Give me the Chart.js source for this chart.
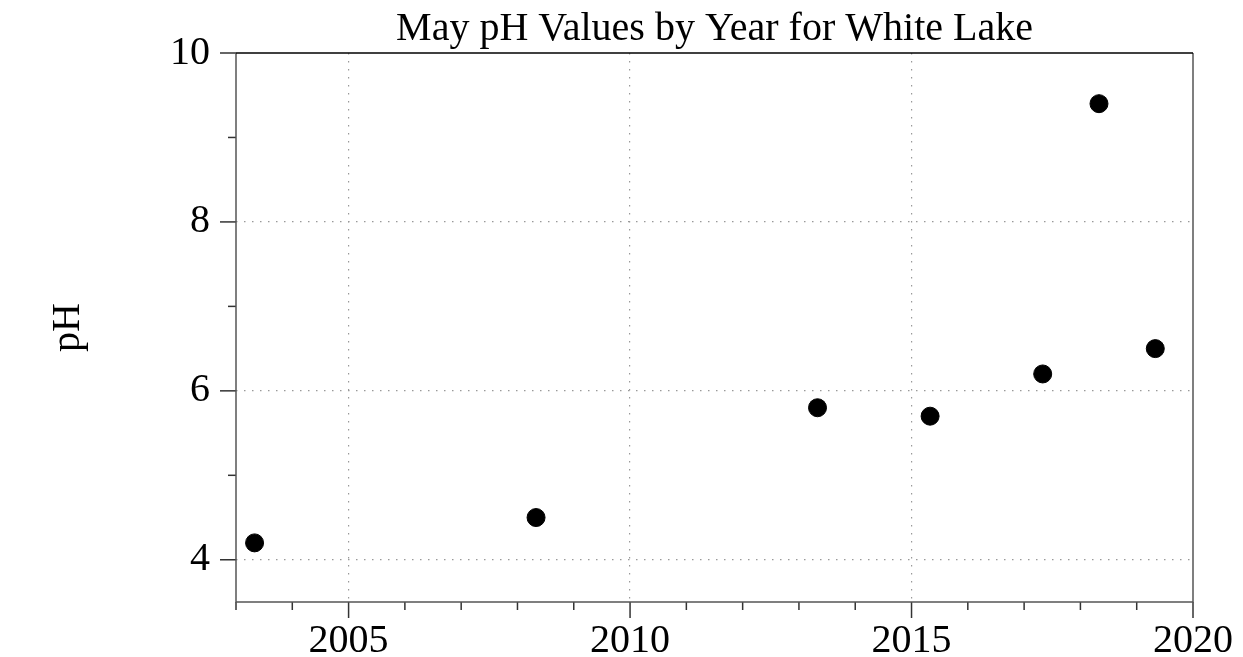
<!DOCTYPE html>
<html>
<head>
<meta charset="utf-8">
<script src="https://cdn.jsdelivr.net/npm/chart.js@4"></script>
<style>
  html, body { margin: 0; padding: 0; background: #fff; }
  #wrap { width: 1243px; height: 657px; }
</style>
</head>
<body>
<div id="wrap"><canvas id="myChart" width="1243" height="657"></canvas></div>
<script>
var years = [2003.33, 2008.33, 2013.33, 2015.33, 2017.33, 2018.33, 2019.33];
var phValues = [4.2, 4.5, 5.8, 5.7, 6.2, 9.4, 6.5];
var xTicks = [2003, 2004, 2005, 2006, 2007, 2008, 2009, 2010, 2011, 2012, 2013, 2014, 2015, 2016, 2017, 2018, 2019, 2020];
var xLabels = [2005, 2010, 2015, 2020];
var yTicks = [4, 5, 6, 7, 8, 9, 10];
var yLabels = [4, 6, 8, 10];

var serif = "'Liberation Serif', 'DejaVu Serif', serif";

// ticks of different lengths + frame
var frame = {
  id: "frame",
  afterDraw: function (chart) {
    var c = chart.ctx, a = chart.chartArea;
    var xs = chart.scales.x, ys = chart.scales.y;
    c.save();
    c.lineWidth = 1.5;
    c.strokeStyle = "#333";
    xTicks.forEach(function (v) {
      var px = xs.getPixelForValue(v);
      var len = xLabels.indexOf(v) >= 0 ? 16 : 8;
      c.beginPath(); c.moveTo(px, a.bottom); c.lineTo(px, a.bottom + len); c.stroke();
    });
    yTicks.forEach(function (v) {
      var py = ys.getPixelForValue(v);
      var len = yLabels.indexOf(v) >= 0 ? 16 : 8;
      c.beginPath(); c.moveTo(a.left, py); c.lineTo(a.left - len, py); c.stroke();
    });
    c.strokeStyle = "#555";
    c.beginPath(); c.moveTo(a.left, a.top); c.lineTo(a.left, a.bottom); c.lineTo(a.right, a.bottom); c.lineTo(a.right, a.top); c.stroke();
    c.strokeStyle = "#000";
    c.beginPath(); c.moveTo(a.left, a.top); c.lineTo(a.right, a.top); c.stroke();
    c.restore();
  }
};

new Chart("myChart", {
  type: "scatter",
  data: {
    datasets: [{
      data: years.map(function (y, i) { return { x: y, y: phValues[i] }; }),
      backgroundColor: "#000",
      borderColor: "#000",
      pointRadius: 9,
      pointHoverRadius: 9
    }]
  },
  options: {
    responsive: false,
    animation: false,
    layout: { padding: { left: 0, right: 50, top: 0, bottom: 0 } },
    plugins: {
      legend: { display: false },
      tooltip: { enabled: false },
      title: {
        display: true,
        fullSize: false,
        text: "May pH Values by Year for White Lake",
        color: "#000",
        font: { family: serif, size: 40, weight: "normal" },
        padding: { top: 5, bottom: 0 }
      }
    },
    scales: {
      x: {
        type: "linear",
        min: 2003,
        max: 2020,
        afterBuildTicks: function (s) { s.ticks = xTicks.map(function (v) { return { value: v }; }); },
        afterFit: function (s) { s.height = 55; s.paddingLeft = 0; s.paddingRight = 0; },
        ticks: {
          autoSkip: false,
          maxRotation: 0,
          padding: 15,
          color: "#000",
          font: { family: serif, size: 40 },
          callback: function (v) { return xLabels.indexOf(v) >= 0 ? String(v) : ""; }
        },
        grid: {
          drawTicks: false,
          lineWidth: 1.2,
          color: function (ctx) {
            var v = ctx.tick && ctx.tick.value;
            return (v % 5 === 0 && v !== 2020) ? "#999" : "rgba(0,0,0,0)";
          }
        },
        border: { display: false, dash: [1.5, 6.5] }
      },
      y: {
        min: 3.5,
        max: 10,
        afterBuildTicks: function (s) { s.ticks = yTicks.map(function (v) { return { value: v }; }); },
        afterFit: function (s) { s.width = 236; s.paddingTop = 0; s.paddingBottom = 0; },
        title: {
          display: true,
          text: "pH",
          color: "#000",
          font: { family: serif, size: 40 },
          padding: { top: 44, bottom: 0 }
        },
        ticks: {
          padding: 26,
          color: "#000",
          font: { family: serif, size: 40 },
          callback: function (v) { return yLabels.indexOf(v) >= 0 ? String(v) : ""; }
        },
        grid: {
          drawTicks: false,
          lineWidth: 1.2,
          color: function (ctx) {
            var v = ctx.tick && ctx.tick.value;
            return (v % 2 === 0 && v !== 10) ? "#999" : "rgba(0,0,0,0)";
          }
        },
        border: { display: false, dash: [1.5, 6.5] }
      }
    }
  },
  plugins: [frame]
});
</script>
</body>
</html>
